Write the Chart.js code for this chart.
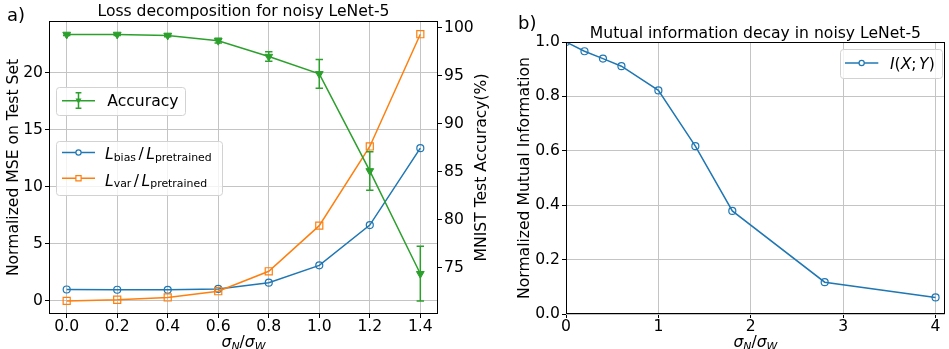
<!DOCTYPE html>
<html>
<head>
<meta charset="utf-8">
<script src="https://cdn.jsdelivr.net/npm/chart.js@4.4.1/dist/chart.umd.min.js"></script>
<style>
  html, body { margin: 0; padding: 0; background: #fff; overflow: hidden; width: 949px; height: 349px; }
  canvas { position: absolute; top: 0; }
  #lossChart { left: 0; }
  #miChart { left: 500px; }
</style>
</head>
<body>
<canvas id="lossChart" width="500" height="349"></canvas>
<canvas id="miChart" width="450" height="349"></canvas>
<script>
// panel a) data
const sigma = [0.0, 0.2, 0.4, 0.6, 0.8, 1.0, 1.2, 1.4];
const biasRatio = [1.0, 0.98, 0.97, 1.05, 1.6, 3.12, 6.65, 13.4];
const varRatio = [0.0, 0.1, 0.3, 0.85, 2.6, 6.6, 13.55, 23.4];
const accuracy = [99.3, 99.3, 99.2, 98.65, 97.0, 95.2, 85.1, 74.4];
const accuracyErr = [0.1, 0.1, 0.15, 0.25, 0.5, 1.5, 2.0, 2.85];
const sigmaTicks = [0.0, 0.2, 0.4, 0.6, 0.8, 1.0, 1.2, 1.4];
const mseTicks = [0, 5, 10, 15, 20];
const accTicks = [75, 80, 85, 90, 95, 100];

// panel b) data
const miSigma = [0, 0.2, 0.4, 0.6, 1.0, 1.4, 1.8, 2.8, 4.0];
const miValues = [1.0, 0.966, 0.939, 0.911, 0.822, 0.617, 0.379, 0.117, 0.061];
const miXTicks = [0, 1, 2, 3, 4];
const miYTicks = [0, 0.2, 0.4, 0.6, 0.8, 1.0];

const blue = "#1f77b4", orange = "#ff7f0e", green = "#2ca02c";
const gridColor = "#c4c4c4";
const FAMILY = "'DejaVu Sans'";
const FS = 15.6, SUB = 10.9;

Chart.defaults.font.family = FAMILY;
Chart.defaults.font.size = FS;
Chart.defaults.color = "#000";

function font(size, italic) {
  return (italic ? "italic " : "") + size + "px " + FAMILY;
}

// draws simple mathtext: italic letters and subscripts
function drawMath(ctx, parts, x, y, align) {
  let w = 0;
  for (const p of parts) {
    if (p.gap) { w += p.gap; continue; }
    ctx.font = font(p.sub ? SUB : FS, p.it);
    w += ctx.measureText(p.t).width;
  }
  let cx = align === "center" ? x - w / 2 : x;
  ctx.textAlign = "left";
  ctx.textBaseline = "alphabetic";
  for (const p of parts) {
    if (p.gap) { cx += p.gap; continue; }
    ctx.font = font(p.sub ? SUB : FS, p.it);
    ctx.fillText(p.t, cx, y + (p.sub ? (p.dy || 2) : 0));
    cx += ctx.measureText(p.t).width;
  }
}

function legendBox(ctx, x, y, w, h) {
  ctx.save();
  ctx.beginPath();
  ctx.roundRect(x + 0.5, y + 0.5, w, h, 3);
  ctx.fillStyle = "rgba(255,255,255,0.8)";
  ctx.fill();
  ctx.strokeStyle = "#d2d2d2";
  ctx.lineWidth = 1;
  ctx.stroke();
  ctx.restore();
}

function legendLine(ctx, x1, x2, y, color, kind, r) {
  ctx.save();
  ctx.strokeStyle = color;
  ctx.lineWidth = 1.5;
  ctx.beginPath();
  ctx.moveTo(x1, y);
  ctx.lineTo(x2, y);
  ctx.stroke();
  const mx = (x1 + x2) / 2;
  ctx.beginPath();
  if (kind === "circle") {
    ctx.arc(mx, y, r, 0, Math.PI * 2);
    ctx.fillStyle = "#fff";
    ctx.fill();
    ctx.lineWidth = 1.2;
    ctx.stroke();
  } else if (kind === "square") {
    ctx.rect(mx - r, y - r, 2 * r, 2 * r);
    ctx.fillStyle = "#fff";
    ctx.fill();
    ctx.lineWidth = 1.2;
    ctx.stroke();
  } else if (kind === "tri") {
    ctx.moveTo(mx - r, y - r * 0.7);
    ctx.lineTo(mx + r, y - r * 0.7);
    ctx.lineTo(mx, y + r * 1.0);
    ctx.closePath();
    ctx.fillStyle = color;
    ctx.fill();
  }
  ctx.restore();
}

function drawFrame(chart) {
  const { ctx, chartArea: a } = chart;
  ctx.save();
  ctx.strokeStyle = "#000";
  ctx.lineWidth = 1;
  ctx.strokeRect(Math.round(a.left) + 0.5, Math.round(a.top) + 0.5,
    Math.round(a.right - a.left) - 1, Math.round(a.bottom - a.top) - 1);
  ctx.restore();
}

function fixedTicks(values) {
  return (scale) => { scale.ticks = values.map((v) => ({ value: v })); };
}

function gridOpts(onArea) {
  return {
    color: gridColor,
    lineWidth: 1,
    drawOnChartArea: onArea,
    drawTicks: true,
    tickLength: 4,
    tickColor: "#000",
  };
}

const sigmaLabel = [
  { t: "\u03c3", it: true }, { t: "N", it: true, sub: true, dy: 3 },
  { t: "/" },
  { t: "\u03c3", it: true }, { t: "W", it: true, sub: true, dy: 3 },
];

// error bars + legends + labels for panel a)
const lossDecor = {
  id: "lossDecor",
  afterDatasetsDraw(chart) {
    const { ctx } = chart;
    const xs = chart.scales.x, ys = chart.scales.y1;
    ctx.save();
    ctx.strokeStyle = green;
    ctx.lineWidth = 1.5;
    sigma.forEach((s, i) => {
      const px = xs.getPixelForValue(s);
      const top = ys.getPixelForValue(accuracy[i] + accuracyErr[i]);
      const bot = ys.getPixelForValue(accuracy[i] - accuracyErr[i]);
      ctx.beginPath();
      ctx.moveTo(px, top); ctx.lineTo(px, bot);
      ctx.moveTo(px - 3.7, top); ctx.lineTo(px + 3.7, top);
      ctx.moveTo(px - 3.7, bot); ctx.lineTo(px + 3.7, bot);
      ctx.stroke();
    });
    ctx.restore();
  },
  afterDraw(chart) {
    const { ctx, chartArea: a } = chart;
    drawFrame(chart);
    ctx.save();
    ctx.fillStyle = "#000";

    // title
    ctx.font = font(FS);
    ctx.textAlign = "center";
    ctx.textBaseline = "alphabetic";
    ctx.fillText("Loss decomposition for noisy LeNet-5", (a.left + a.right) / 2, a.top - 4.6);

    // panel tag
    ctx.font = font(18);
    ctx.textAlign = "left";
    ctx.fillText("a)", 7, 21);

    // x label
    drawMath(ctx, sigmaLabel, (a.left + a.right) / 2, 347, "center");

    // right y label
    ctx.save();
    ctx.translate(482, (a.top + a.bottom) / 2);
    ctx.rotate(-Math.PI / 2);
    ctx.font = font(FS);
    ctx.textAlign = "center";
    ctx.textBaseline = "middle";
    ctx.fillText("MNIST Test Accuracy(%)", 0, 0);
    ctx.restore();

    // accuracy legend
    legendBox(ctx, 56, 87, 129, 28);
    legendLine(ctx, 62, 95, 100.7, green, "tri", 3);
    ctx.strokeStyle = green;
    ctx.lineWidth = 1.5;
    ctx.beginPath();
    ctx.moveTo(78.5, 92.7); ctx.lineTo(78.5, 108.3);
    ctx.moveTo(75.6, 92.7); ctx.lineTo(81.4, 92.7);
    ctx.moveTo(75.6, 108.3); ctx.lineTo(81.4, 108.3);
    ctx.stroke();
    ctx.fillStyle = "#000";
    ctx.font = font(FS);
    ctx.textAlign = "left";
    ctx.fillText("Accuracy", 107.3, 105.7);

    // loss legend
    legendBox(ctx, 56, 141, 166, 54);
    legendLine(ctx, 62, 95, 152.5, blue, "circle", 2.6);
    legendLine(ctx, 62, 95, 178.3, orange, "square", 2.6);
    ctx.fillStyle = "#000";
    drawMath(ctx, [
      { t: "L", it: true }, { t: "bias", sub: true, dy: 1.7 }, { gap: 2.5 },
      { t: "/" }, { gap: 2.5 },
      { t: "L", it: true }, { t: "pretrained", sub: true, dy: 1.7 },
    ], 105, 159.3);
    drawMath(ctx, [
      { t: "L", it: true }, { t: "var", sub: true, dy: 1.7 }, { gap: 2.5 },
      { t: "/" }, { gap: 2.5 },
      { t: "L", it: true }, { t: "pretrained", sub: true, dy: 1.7 },
    ], 105, 185.5);
    ctx.restore();
  },
};

new Chart(document.getElementById("lossChart"), {
  type: "line",
  data: {
    datasets: [
      {
        label: "Accuracy",
        data: sigma.map((s, i) => ({ x: s, y: accuracy[i] })),
        yAxisID: "y1",
        borderColor: green,
        backgroundColor: green,
        borderWidth: 1.5,
        pointStyle: "triangle",
        pointRotation: 180,
        pointRadius: 4.5,
        pointBorderWidth: 1,
        pointBackgroundColor: green,
        tension: 0,
      },
      {
        label: "var",
        data: sigma.map((s, i) => ({ x: s, y: varRatio[i] })),
        yAxisID: "y",
        borderColor: orange,
        backgroundColor: "rgba(0,0,0,0)",
        borderWidth: 1.5,
        pointStyle: "rect",
        pointRadius: 5,
        pointBorderWidth: 1.2,
        tension: 0,
      },
      {
        label: "bias",
        data: sigma.map((s, i) => ({ x: s, y: biasRatio[i] })),
        yAxisID: "y",
        borderColor: blue,
        backgroundColor: "rgba(0,0,0,0)",
        borderWidth: 1.5,
        pointStyle: "circle",
        pointRadius: 3.5,
        pointBorderWidth: 1.2,
        tension: 0,
      },
    ],
  },
  options: {
    responsive: false,
    animation: false,
    devicePixelRatio: 1,
    layout: { padding: { top: 21, left: 0, right: 0, bottom: 0 } },
    plugins: { legend: { display: false }, tooltip: { enabled: false } },
    scales: {
      x: {
        type: "linear",
        min: -0.07,
        max: 1.47,
        afterBuildTicks: fixedTicks(sigmaTicks),
        afterFit: (s) => { s.height = 35; },
        grid: gridOpts(true),
        border: { display: false },
        ticks: { autoSkip: false, maxRotation: 0, padding: 0, callback: (v) => v.toFixed(1) },
      },
      y: {
        position: "left",
        min: -1.15,
        max: 24.56,
        afterBuildTicks: fixedTicks(mseTicks),
        afterFit: (s) => { s.width = 49; },
        grid: gridOpts(true),
        border: { display: false },
        ticks: { padding: 2, callback: (v) => String(v) },
        title: { display: true, text: "Normalized MSE on Test Set", padding: { top: 4.6, bottom: 0 } },
      },
      y1: {
        position: "right",
        min: 70.21,
        max: 100.7,
        afterBuildTicks: fixedTicks(accTicks),
        afterFit: (s) => { s.width = 62; },
        grid: gridOpts(false),
        border: { display: false },
        ticks: { padding: 2, callback: (v) => String(v) },
      },
    },
  },
  plugins: [lossDecor],
});

// legend + labels for panel b)
const miDecor = {
  id: "miDecor",
  afterDraw(chart) {
    const { ctx, chartArea: a } = chart;
    drawFrame(chart);
    ctx.save();
    ctx.fillStyle = "#000";
    ctx.font = font(FS);
    ctx.textAlign = "center";
    ctx.textBaseline = "alphabetic";
    ctx.fillText("Mutual information decay in noisy LeNet-5", (a.left + a.right) / 2, a.top - 4);

    ctx.font = font(18);
    ctx.textAlign = "left";
    ctx.fillText("b)", 18, 28.5);

    drawMath(ctx, sigmaLabel, (a.left + a.right) / 2, 347, "center");

    legendBox(ctx, 340, 49, 102, 29);
    legendLine(ctx, 345, 378.3, 63, blue, "circle", 2.6);
    ctx.fillStyle = "#000";
    drawMath(ctx, [
      { t: "I", it: true }, { t: "(" }, { t: "X", it: true }, { t: ";" }, { gap: 2.5 },
      { t: "Y", it: true }, { t: ")" },
    ], 390, 69.2);
    ctx.restore();
  },
};

new Chart(document.getElementById("miChart"), {
  type: "line",
  data: {
    datasets: [
      {
        label: "I(X; Y)",
        data: miSigma.map((s, i) => ({ x: s, y: miValues[i] })),
        borderColor: blue,
        backgroundColor: "rgba(0,0,0,0)",
        borderWidth: 1.5,
        pointStyle: "circle",
        pointRadius: 3.5,
        pointBorderWidth: 1.2,
        tension: 0,
        clip: 0,
      },
    ],
  },
  options: {
    responsive: false,
    animation: false,
    devicePixelRatio: 1,
    layout: { padding: { top: 42, left: 0, right: 0, bottom: 0 } },
    plugins: { legend: { display: false }, tooltip: { enabled: false } },
    scales: {
      x: {
        type: "linear",
        min: 0,
        max: 4.1,
        afterBuildTicks: fixedTicks(miXTicks),
        afterFit: (s) => { s.height = 35; },
        grid: gridOpts(true),
        border: { display: false },
        ticks: { autoSkip: false, maxRotation: 0, padding: 0, callback: (v) => String(v) },
      },
      y: {
        position: "left",
        min: 0,
        max: 1,
        afterBuildTicks: fixedTicks(miYTicks),
        afterFit: (s) => { s.width = 66; },
        grid: gridOpts(true),
        border: { display: false },
        ticks: { padding: 2, callback: (v) => v.toFixed(1) },
        title: { display: true, text: "Normalized Mutual Information", padding: { top: 15.6, bottom: 0 } },
      },
    },
  },
  plugins: [miDecor],
});
</script>
</body>
</html>
